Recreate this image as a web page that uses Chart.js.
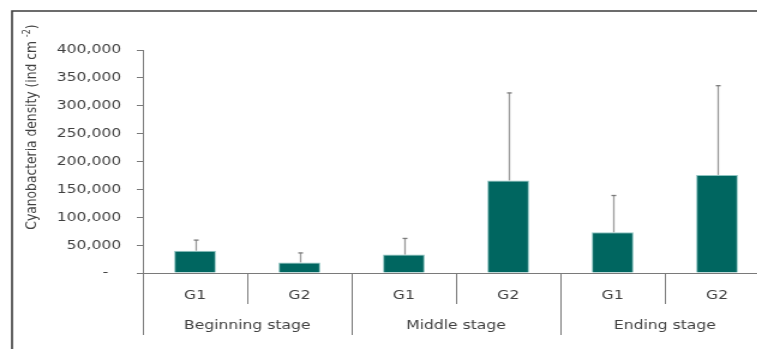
<!DOCTYPE html>
<html>
<head>
<meta charset="utf-8">
<script src="https://cdn.jsdelivr.net/npm/chart.js@4.4.1/dist/chart.umd.min.js"></script>
<style>
  html, body { margin: 0; padding: 0; background: #fff; overflow: hidden; width: 757px; height: 349px; }
  #wrap { width: 660px; height: 349px; transform: scaleX(1.2); transform-origin: 0 0; }
</style>
</head>
<body>
<div id="wrap"><canvas id="c" width="660" height="349"></canvas></div>
<script>
// Cyanobacteria density per group and stage (mean, upper SD)
const groups = ['G1', 'G2', 'G1', 'G2', 'G1', 'G2'];
const stages = ['Beginning stage', 'Middle stage', 'Ending stage'];
const density = [40000, 19000, 33000, 166000, 73000, 176000];
const densitySD = [19000, 17000, 29000, 157000, 66000, 160000];
const yTicks = [0, 50000, 100000, 150000, 200000, 250000, 300000, 350000, 400000];
const yTickLabels = ['-  \u2009', '50,000', '100,000', '150,000', '200,000', '250,000', '300,000', '350,000', '400,000'];

const FONT = "'DejaVu Sans', Verdana, sans-serif";
const TEXT = '#404040';
const AXIS = '#7a7a7a';

Chart.defaults.font.family = FONT;
Chart.defaults.font.size = 13;
Chart.defaults.color = TEXT;

// outer frame (left and top edges)
const framePlugin = {
  id: 'frame',
  afterDraw(chart) {
    const ctx = chart.ctx;
    ctx.save();
    ctx.strokeStyle = '#3c3c3c';
    ctx.lineWidth = 1.6;
    ctx.beginPath();
    ctx.moveTo(10, 349);
    ctx.lineTo(10, 11);
    ctx.lineTo(chart.width, 11);
    ctx.stroke();
    ctx.restore();
  }
};

// vertical axis title with superscript unit
const yTitlePlugin = {
  id: 'yTitle',
  afterDraw(chart) {
    const ctx = chart.ctx;
    const main = 'Cyanobacteria density (ind cm ';
    const sup = '-2';
    const tail = ')';
    ctx.save();
    ctx.fillStyle = TEXT;
    ctx.textBaseline = 'middle';
    ctx.textAlign = 'left';
    const f1 = '12.3px ' + FONT, f2 = '8px ' + FONT;
    ctx.font = f1;
    const w1 = ctx.measureText(main).width, w3 = ctx.measureText(tail).width;
    ctx.font = f2;
    const w2 = ctx.measureText(sup).width;
    const total = w1 + w2 + w3;
    ctx.translate(26.5, 127);
    ctx.rotate(-Math.PI / 2);
    let x = -total / 2;
    ctx.font = f1; ctx.fillText(main, x, 0); x += w1;
    ctx.font = f2; ctx.fillText(sup, x, -4); x += w2;
    ctx.font = f1; ctx.fillText(tail, x, 0);
    ctx.restore();
  }
};

// category separators below the x axis
const separatorPlugin = {
  id: 'separators',
  afterDraw(chart) {
    const xs = chart.scales.x;
    const ctx = chart.ctx;
    const half = (xs.getPixelForValue(1) - xs.getPixelForValue(0)) / 2;
    const top = chart.chartArea.bottom;
    ctx.save();
    ctx.strokeStyle = AXIS;
    ctx.lineWidth = 1;
    for (let i = 0; i <= groups.length; i++) {
      const px = i < groups.length ? xs.getPixelForValue(i) - half : xs.getPixelForValue(groups.length - 1) + half;
      const len = (i % 2 === 0) ? 62 : 31;
      ctx.beginPath();
      ctx.moveTo(Math.round(px) + 0.5, top);
      ctx.lineTo(Math.round(px) + 0.5, top + len);
      ctx.stroke();
    }
    ctx.restore();
  }
};

// upper error whiskers
const errorBarPlugin = {
  id: 'errorBars',
  afterDatasetsDraw(chart) {
    const ys = chart.scales.y;
    const meta = chart.getDatasetMeta(0);
    const ctx = chart.ctx;
    ctx.save();
    meta.data.forEach((bar, i) => {
      const yTop = ys.getPixelForValue(density[i] + densitySD[i]);
      const x = Math.round(bar.x) + 0.5;
      ctx.strokeStyle = '#9a9a9a';
      ctx.lineWidth = 1.3;
      ctx.beginPath();
      ctx.moveTo(x, bar.y);
      ctx.lineTo(x, yTop);
      ctx.stroke();
      ctx.strokeStyle = '#7a7a7a';
      ctx.lineWidth = 1.3;
      ctx.beginPath();
      ctx.moveTo(x - 2, yTop);
      ctx.lineTo(x + 2, yTop);
      ctx.stroke();
    });
    ctx.restore();
  }
};

new Chart(document.getElementById('c'), {
  type: 'bar',
  data: {
    labels: groups,
    datasets: [{
      data: density,
      backgroundColor: '#006660',
      borderColor: 'rgba(130,190,186,0.9)',
      borderWidth: 1,
      borderSkipped: 'bottom',
      barPercentage: 0.4,
      categoryPercentage: 1.0
    }]
  },
  options: {
    responsive: false,
    animation: false,
    devicePixelRatio: 1,
    layout: { padding: { top: 50, bottom: 14, left: 0, right: 19 } },
    plugins: { legend: { display: false }, tooltip: { enabled: false } },
    scales: {
      x: {
        type: 'category',
        position: 'bottom',
        weight: 0,
        offset: true,
        afterFit(scale) { scale.height = 31; },
        grid: { display: true, drawOnChartArea: false, drawTicks: false, color: AXIS },
        border: { display: true, color: AXIS, width: 1 },
        ticks: { padding: 15, autoSkip: false, maxRotation: 0, color: TEXT }
      },
      x2: {
        type: 'category',
        labels: stages,
        position: 'bottom',
        weight: 1,
        offset: true,
        afterFit(scale) { scale.height = 31; },
        grid: { display: false },
        border: { display: false },
        ticks: { padding: 6, autoSkip: false, maxRotation: 0, color: TEXT }
      },
      y: {
        min: 0,
        max: 400000,
        afterFit(scale) { scale.width = 119; },
        afterBuildTicks(scale) { scale.ticks = yTicks.map(v => ({ value: v })); },
        grid: { display: true, drawOnChartArea: false, drawTicks: true, tickLength: 5, color: AXIS },
        border: { display: true, color: AXIS, width: 1 },
        ticks: {
          padding: 13,
          color: TEXT,
          callback: (v) => yTickLabels[yTicks.indexOf(v)]
        }
      }
    }
  },
  plugins: [framePlugin, yTitlePlugin, separatorPlugin, errorBarPlugin]
});
</script>
</body>
</html>
